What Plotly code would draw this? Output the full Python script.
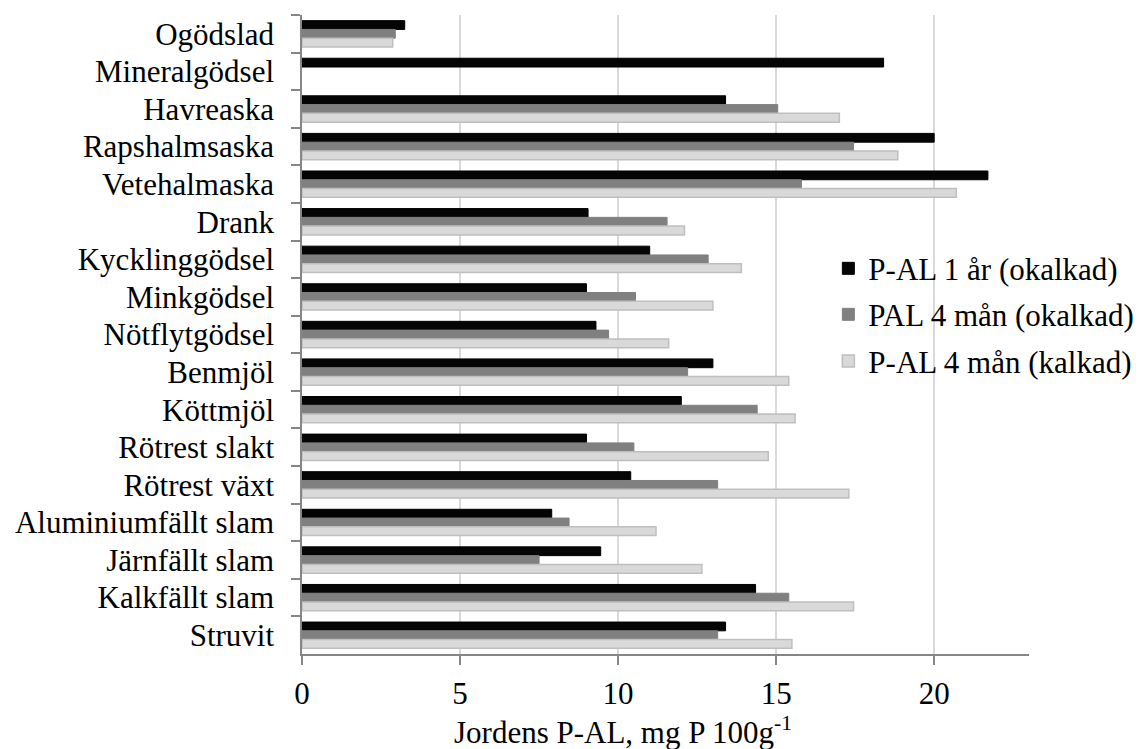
import plotly.graph_objects as go

categories = ["Ogödslad", "Mineralgödsel", "Havreaska", "Rapshalmsaska", "Vetehalmaska",
              "Drank", "Kycklinggödsel", "Minkgödsel", "Nötflytgödsel", "Benmjöl",
              "Köttmjöl", "Rötrest slakt", "Rötrest växt", "Aluminiumfällt slam",
              "Järnfällt slam", "Kalkfällt slam", "Struvit"]

pal_1ar_okalkad = [3.25, 18.4, 13.4, 20.0, 21.7, 9.05, 11.0, 9.0, 9.3, 13.0,
                   12.0, 9.0, 10.4, 7.9, 9.45, 14.35, 13.4]
pal_4man_okalkad = [2.95, None, 15.05, 17.45, 15.8, 11.55, 12.85, 10.55, 9.7, 12.2,
                    14.4, 10.5, 13.15, 8.45, 7.5, 15.4, 13.15]
pal_4man_kalkad = [2.87, None, 17.0, 18.85, 20.7, 12.1, 13.9, 13.0, 11.6, 15.4,
                   15.6, 14.75, 17.3, 11.2, 12.65, 17.45, 15.5]

series_names = ["P-AL 1 år (okalkad)", "PAL 4 mån (okalkad)", "P-AL 4 mån (kalkad)"]
x_ticks = [0, 5, 10, 15, 20]
x_title = "Jordens P-AL, mg P 100g<sup>-1</sup>"

FONT = "Liberation Serif"
FS = 31

fig = go.Figure()
fig.add_trace(go.Bar(y=categories, x=pal_1ar_okalkad, orientation="h", name=series_names[0],
                     legend="legend",
                     marker=dict(color="#050505", line=dict(color="#000000", width=1))))
fig.add_trace(go.Bar(y=categories, x=pal_4man_okalkad, orientation="h", name=series_names[1],
                     legend="legend2",
                     marker=dict(color="#808080", line=dict(color="#808080", width=1))))
fig.add_trace(go.Bar(y=categories, x=pal_4man_kalkad, orientation="h", name=series_names[2],
                     legend="legend3",
                     marker=dict(color="#d9d9d9", line=dict(color="#bfbfbf", width=1.5))))

leg_common = dict(x=0.724, xanchor="left", yanchor="middle",
                  font=dict(family=FONT, size=FS, color="black"),
                  bgcolor="rgba(0,0,0,0)")

fig.update_layout(
    width=1138, height=741,
    margin=dict(l=294, r=115, t=7, b=95),
    paper_bgcolor="white", plot_bgcolor="white",
    barmode="group", bargap=0.3, bargroupgap=0,
    font=dict(family=FONT, size=FS, color="black"),
    showlegend=True,
    legend=dict(y=0.603, **leg_common),
    legend2=dict(y=0.531, **leg_common),
    legend3=dict(y=0.458, **leg_common),
    xaxis=dict(range=[0, 23.0], tickvals=x_ticks, showgrid=True, gridcolor="#d9d9d9",
               gridwidth=1.5, zeroline=False, showline=True, linecolor="#868686", linewidth=1.5,
               ticks="outside", ticklen=9, tickcolor="#868686", tickwidth=1.5,
               tickfont=dict(family=FONT, size=FS, color="black"), ticklabelstandoff=2),
    yaxis=dict(type="category", categoryorder="array", categoryarray=categories,
               autorange="reversed", showgrid=False, zeroline=False, showline=True,
               linecolor="#868686", linewidth=1.5, ticks="outside", ticklen=9,
               tickcolor="#868686", tickwidth=1.5, tickson="boundaries",
               tickfont=dict(family=FONT, size=FS, color="black"), ticklabelstandoff=20),
    annotations=[dict(text=x_title, xref="paper", yref="paper", x=0.442, y=0,
                      xanchor="center", yanchor="middle", yshift=-76, showarrow=False,
                      font=dict(family=FONT, size=FS, color="black"))],
)

fig.write_html("out.html")
